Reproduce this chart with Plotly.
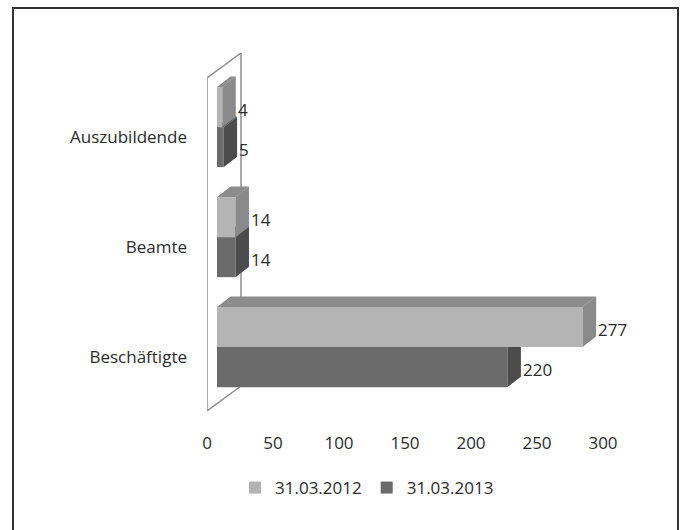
import plotly.graph_objects as go

# ---- data -------------------------------------------------------------
categories = ["Beschäftigte", "Beamte", "Auszubildende"]
series_names = ["31.03.2012", "31.03.2013"]
values_2012 = [277, 14, 4]
values_2013 = [220, 14, 5]
x_ticks = [0, 50, 100, 150, 200, 250, 300]

# ---- geometry of the pseudo-3D view (data units) ---------------------
X_RANGE = [0, 300]
Y_RANGE = [-0.491, 2.764]
PX_X = 396 / 300.0            # pixels per x unit
PX_Y = 358 / (Y_RANGE[1] - Y_RANGE[0])  # pixels per y unit

BASE = 10 / PX_X              # bars start set back from the front wall
SHIFT = 0.09                  # bars lifted from the front-plane category line
BAR_W = 0.364                 # height of one bar
DEPTH_X = 13.5 / PX_X         # visible bar depth (oblique projection)
DEPTH_Y = 10.5 / PX_Y
WALL_X = 34 / PX_X            # depth of the side wall / floor
WALL_Y = 25 / PX_Y

FONT = "Open Sans"
FS = 17
TXT = "#2b2b2b"

styles = {
    "31.03.2012": dict(front="#b4b4b4", top="#8c8c8c", side="#8a8a8a", offset=+BAR_W / 2, z=1),
    "31.03.2013": dict(front="#6b6b6b", top="#5a5a5a", side="#4c4c4c", offset=-BAR_W / 2, z=0),
}

fig = go.Figure()
annotations = []

for name, vals in zip(series_names, [values_2012, values_2013]):
    st = styles[name]
    centers = [i + SHIFT + st["offset"] for i in range(len(categories))]

    # top and right faces of each bar
    top_x, top_y, side_x, side_y = [], [], [], []
    for c, v in zip(centers, vals):
        yt, yb = c + BAR_W / 2, c - BAR_W / 2
        x0, x1 = BASE, BASE + v
        top_x += [x0, x1, x1 + DEPTH_X, x0 + DEPTH_X, x0, None]
        top_y += [yt, yt, yt + DEPTH_Y, yt + DEPTH_Y, yt, None]
        side_x += [x1, x1, x1 + DEPTH_X, x1 + DEPTH_X, x1, None]
        side_y += [yb, yt, yt + DEPTH_Y, yb + DEPTH_Y, yb, None]
        annotations.append(dict(
            x=x1, y=c, xref="x", yref="y", text=str(v), showarrow=False,
            xanchor="left", yanchor="middle", xshift=13.5, yshift=-2.5,
            font=dict(family=FONT, size=FS, color=TXT),
        ))

    fig.add_trace(go.Scatter(
        x=top_x, y=top_y, mode="lines", fill="toself", fillcolor=st["top"],
        line=dict(width=0, color=st["top"]), hoverinfo="skip", showlegend=False,
        zorder=st["z"],
    ))
    fig.add_trace(go.Scatter(
        x=side_x, y=side_y, mode="lines", fill="toself", fillcolor=st["side"],
        line=dict(width=0, color=st["side"]), hoverinfo="skip", showlegend=False,
        zorder=st["z"],
    ))
    # front faces as real bars
    fig.add_trace(go.Bar(
        name=name, y=centers, x=vals, base=BASE, orientation="h", width=BAR_W,
        marker=dict(color=st["front"], line=dict(width=0)),
        zorder=st["z"],
    ))

# side wall and floor outline
wall = dict(type="line", xref="x", yref="y", layer="below",
            line=dict(color="#8f8f8f", width=1.5))
front_top = Y_RANGE[1] - WALL_Y
shapes = [
    dict(wall, x0=0, y0=Y_RANGE[0], x1=0, y1=front_top),
    dict(wall, x0=0, y0=front_top, x1=WALL_X, y1=Y_RANGE[1]),
    dict(wall, x0=WALL_X, y0=Y_RANGE[1], x1=WALL_X, y1=Y_RANGE[0] + WALL_Y),
    dict(wall, x0=0, y0=Y_RANGE[0], x1=WALL_X, y1=Y_RANGE[0] + WALL_Y),
    # outer frame
    dict(type="rect", xref="paper", yref="paper",
         x0=(13 - 207) / 396, x1=(678 - 207) / 396,
         y0=(411 - 560) / 358, y1=(411 - 8) / 358,
         line=dict(color="#333333", width=2), fillcolor="rgba(0,0,0,0)"),
]

fig.update_layout(
    width=684, height=530,
    margin=dict(l=207, r=81, t=53, b=119, pad=0, autoexpand=False),
    paper_bgcolor="white", plot_bgcolor="rgba(0,0,0,0)",
    barmode="overlay",
    shapes=shapes,
    annotations=annotations,
    font=dict(family=FONT, size=FS, color=TXT),
    legend=dict(
        orientation="h", x=(367 - 207) / 396, xanchor="center",
        y=(411 - 488) / 358, yanchor="middle",
        font=dict(family=FONT, size=FS, color=TXT),
        itemwidth=30, traceorder="normal", bgcolor="rgba(0,0,0,0)",
    ),
    xaxis=dict(
        range=X_RANGE, tickvals=x_ticks, showgrid=False, zeroline=False,
        showline=True, linecolor="#8f8f8f", linewidth=1.5, ticks="",
        ticklabelstandoff=16, tickfont=dict(family=FONT, size=FS, color=TXT),
        fixedrange=True,
    ),
    yaxis=dict(
        range=Y_RANGE, tickvals=list(range(len(categories))), ticktext=categories,
        showgrid=False, zeroline=False, showline=False, ticks="",
        ticklabelstandoff=19, tickfont=dict(family=FONT, size=FS, color=TXT),
        fixedrange=True,
    ),
)

fig.write_html("out.html")
